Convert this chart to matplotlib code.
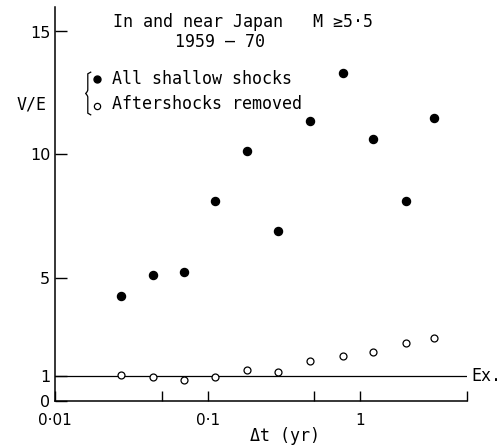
import numpy as np
import matplotlib
matplotlib.use("Agg")
from matplotlib import pyplot as plt
from matplotlib.path import Path
from matplotlib.patches import PathPatch
from matplotlib.ticker import NullLocator
import matplotlib.transforms as mtransforms

# --- data --------------------------------------------------
dt_yr = [0.027, 0.044, 0.070, 0.112, 0.181, 0.291, 0.47, 0.775, 1.22, 1.99, 3.03]
ve_all = [4.24, 5.11, 5.23, 8.12, 10.16, 6.91, 11.37, 13.30, 10.64, 8.10, 11.50]
ve_removed = [1.02, 0.94, 0.85, 0.95, 1.26, 1.14, 1.59, 1.80, 1.96, 2.35, 2.53]
expected = 1.0

x_ticks = [0.01, 0.05, 0.1, 0.5, 1, 5]
x_ticklabels = ["0\u00b701", "", "0\u00b71", "", "1", ""]
y_ticks = [0, 1, 5, 10, 15]
y_ticklabels = ["0", "1", "5", "10", "15"]

# --- figure ------------------------------------------------
plt.rcParams["font.family"] = ["DejaVu Sans"]
fig = plt.figure(figsize=(5.02, 4.48), dpi=100)
ax = fig.add_axes([55 / 502, 1 - 400.5 / 448, 412 / 502, 393.6 / 448])

ax.set_xscale("log")
ax.set_xlim(0.01, 5)
ax.set_ylim(0, 16)

ax.plot(dt_yr, ve_all, "o", color="black", markersize=5.8, zorder=3)
ax.plot(dt_yr, ve_removed, "o", markerfacecolor="white", markeredgecolor="black",
        markersize=5, markeredgewidth=0.9, zorder=3)
ax.axhline(expected, color="black", lw=0.9, zorder=2)

for s in ["top", "right"]:
    ax.spines[s].set_visible(False)
for s in ["left", "bottom"]:
    ax.spines[s].set_linewidth(1.1)

ax.set_xticks(x_ticks)
ax.set_xticklabels(x_ticklabels)
ax.xaxis.set_minor_locator(NullLocator())
ax.set_yticks(y_ticks)
ax.set_yticklabels(y_ticklabels)
ax.tick_params(axis="x", direction="in", length=7, width=1.0, pad=9, labelsize=11)
ax.tick_params(axis="y", direction="in", length=8.5, width=1.0, pad=3.5, labelsize=11.5)

# --- annotations -------------------------------------------
fs = 12
mono = ["DejaVu Sans Mono", "DejaVu Sans"]
ax.text(0.141, 0.962, "In and near Japan   M \u22655\u00b75", transform=ax.transAxes,
        fontsize=fs, va="center", ha="left", family=mono)
ax.text(0.291, 0.911, "1959 \u2013 70", transform=ax.transAxes,
        fontsize=fs, va="center", ha="left", family=mono)
ax.text(0.138, 0.817, "All shallow shocks", transform=ax.transAxes,
        fontsize=fs, va="center", ha="left", family=mono)
ax.text(0.138, 0.753, "Aftershocks removed", transform=ax.transAxes,
        fontsize=fs, va="center", ha="left", family=mono)
ax.plot([0.102], [0.817], "o", color="black", markersize=5, transform=ax.transAxes,
        clip_on=False)
ax.plot([0.102], [0.749], "o", markerfacecolor="white", markeredgecolor="black",
        markersize=4.5, markeredgewidth=0.9, transform=ax.transAxes, clip_on=False)

# curly brace grouping the two series
bx, by0, by1, bd = 0.088, 0.725, 0.835, 0.014
bm = (by0 + by1) / 2
verts = [(bx, by1), (bx - bd * 0.6, by1 - 0.005), (bx - bd * 0.6, bm + 0.01),
         (bx - bd * 0.6, bm + 0.004), (bx - bd, bm),
         (bx - bd * 0.6, bm - 0.004), (bx - bd * 0.6, bm - 0.01),
         (bx - bd * 0.6, by0 + 0.005), (bx, by0)]
codes = [Path.MOVETO, Path.LINETO, Path.LINETO, Path.CURVE3, Path.CURVE3,
         Path.CURVE3, Path.CURVE3, Path.LINETO, Path.LINETO]
ax.add_patch(PathPatch(Path(verts, codes), fill=False, lw=0.9, color="black",
                       transform=ax.transAxes, clip_on=False))

ax.text(-0.056, 0.753, "V/E", transform=ax.transAxes, fontsize=fs,
        va="center", ha="center", family=mono)
trans = mtransforms.blended_transform_factory(ax.transAxes, ax.transData)
ax.text(1.01, expected, "Ex.", transform=trans, fontsize=fs, va="center", ha="left",
        family=mono)
ax.text(0.558, -0.09, "\u0394t (yr)", transform=ax.transAxes, fontsize=fs,
        va="center", ha="center", family=mono)

fig.savefig("out.png", dpi=100)
